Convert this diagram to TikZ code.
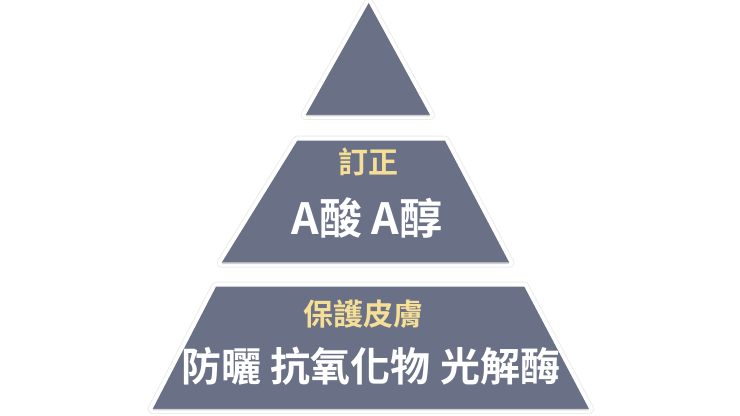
\documentclass[tikz,border=0pt]{standalone}
\usepackage{fontspec}
\newfontfamily\cjk{Noto Sans CJK TC Bold}
\definecolor{tierfill}{HTML}{6A7086}
\definecolor{tiergold}{HTML}{F5DE96}
\tikzset{
  halo/.style={draw=black!7, line width=5pt, line join=round, fill=black!7},
  rim/.style={draw=white, line width=4pt, line join=round, fill=white},
  tier/.style={fill=tierfill},
  head/.style={text=tiergold, font=\cjk\fontsize{15}{16}\selectfont, inner sep=0pt},
  body/.style={text=white, font=\cjk\fontsize{20}{22}\selectfont, inner sep=0pt}
}
\begin{document}
\begin{tikzpicture}[x=0.5pt, y=-0.5pt]
%		    \draw[help lines] (0,0) grid (740,416);
			\useasboundingbox (0,0) rectangle (740,416);
			\fill[white] (0,0) rectangle (740,416);
			\foreach \s in {halo, rim, tier} {
				\path[\s] (368.7,3) -- (430,115) -- (305.7,115) -- cycle;
				\path[\s] (297.3,140.7) -- (445,140.7) -- (509.3,262.7) -- (221.7,262.7) -- cycle;
				\path[\s] (216,286.7) -- (524.3,286.7) -- (589,409) -- (152.7,409) -- cycle;
			}
			% soft edge under each tier
			\foreach \l/\r/\y in {305.7/430/115, 221.7/509.3/262.7, 152.7/589/409}
				\fill[black!18] (\l+1,\y) -- (\r-1,\y) -- (\r,\y+1.5) -- (\l,\y+1.5) -- cycle;
			\node[head] (fix) at (368,162) {訂正};
			\node[body, font=\cjk\fontsize{21.5}{22}\selectfont] (acid) at (367,218) {A酸 A醇};
			\node[head] (protect) at (363,314) {保護皮膚};
			\node[body] (sun) at (371,366) {防曬 抗氧化物 光解酶};
		\end{tikzpicture}
\end{document}
